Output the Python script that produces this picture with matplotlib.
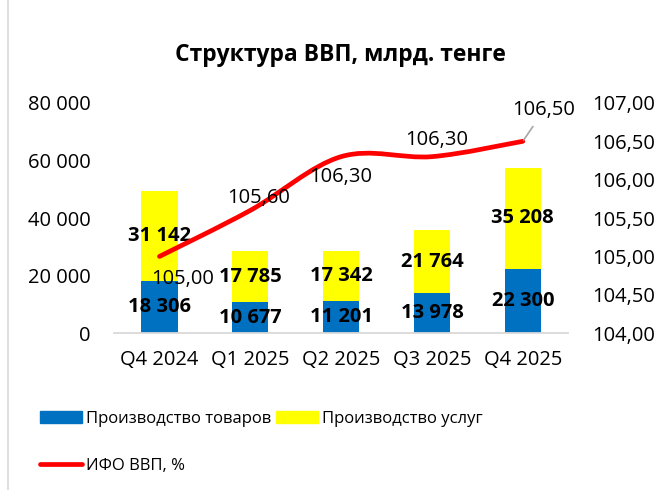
import matplotlib.pyplot as plt
import numpy as np
from matplotlib.path import Path
from matplotlib.patches import PathPatch, Patch
from matplotlib.lines import Line2D
from matplotlib.ticker import FuncFormatter

plt.rcParams["font.family"] = ["Open Sans", "DejaVu Sans"]

# Data
quarters = ["Q4 2024", "Q1 2025", "Q2 2025", "Q3 2025", "Q4 2025"]
goods = [18306, 10677, 11201, 13978, 22300]
services = [31142, 17785, 17342, 21764, 35208]
ifo = [105.00, 105.60, 106.30, 106.30, 106.50]

# label offsets (pixels) for the line values
ifo_offsets = [(23, -23), (8, 12), (0, -20), (5, 17), (21, 31)]

fig = plt.figure(figsize=(6.67, 4.9), dpi=100)
ax = fig.add_axes([0.171, 0.320, 0.681, 0.470])
ax2 = ax.twinx()

x = np.arange(len(quarters))
b1 = ax.bar(x, goods, width=0.4, color="#0070C0")
b2 = ax.bar(x, services, width=0.4, bottom=goods, color="#FFFF00")

fmt = lambda v: f"{int(v):,}".replace(",", " ")
ax.bar_label(b1, labels=[fmt(v) for v in goods], label_type="center",
             fontsize=14.5, fontweight="bold")
ax.bar_label(b2, labels=[fmt(v) for v in services], label_type="center",
             fontsize=14.5, fontweight="bold")

ax.set_xlim(-0.5, 4.5)
ax.set_ylim(0, 80000)
ax.set_yticks([0, 20000, 40000, 60000, 80000])
ax.yaxis.set_major_formatter(FuncFormatter(lambda v, p: fmt(v)))
ax.set_xticks(x)
ax.set_xticklabels(quarters)

ax2.set_ylim(104, 107)
ax2.set_yticks(np.arange(104, 107.01, 0.5))
ax2.yaxis.set_major_formatter(FuncFormatter(lambda v, p: f"{v:.2f}".replace(".", ",")))

for a in (ax, ax2):
    for s in ("top", "left", "right", "bottom"):
        a.spines[s].set_visible(False)
ax.spines["bottom"].set_visible(True)
ax.spines["bottom"].set_color("#D9D9D9")
ax.spines["bottom"].set_linewidth(1.3)

ax.tick_params(axis="y", length=0, pad=17, labelsize=14.5)
ax.tick_params(axis="x", length=0, pad=12, labelsize=14.5)
ax2.tick_params(axis="y", length=0, pad=17, labelsize=14.5)

# smoothed line (Catmull-Rom -> Bezier)
pts = np.column_stack([x, ifo]).astype(float)
ext = np.vstack([pts[0], pts, pts[-1]])
verts = [tuple(pts[0])]
codes = [Path.MOVETO]
for i in range(len(pts) - 1):
    p0, p1, p2, p3 = ext[i], ext[i + 1], ext[i + 2], ext[i + 3]
    c1 = p1 + (p2 - p0) / 6
    c2 = p2 - (p3 - p1) / 6
    verts += [tuple(c1), tuple(c2), tuple(p2)]
    codes += [Path.CURVE4] * 3
line = PathPatch(Path(verts, codes), facecolor="none", edgecolor="#FF0000",
                 linewidth=3.4, capstyle="round", zorder=5)
ax2.add_patch(line)

for i, (v, off) in enumerate(zip(ifo, ifo_offsets)):
    kw = {}
    if i == len(ifo) - 1:
        kw["arrowprops"] = dict(arrowstyle="-", color="#A6A6A6", lw=1.2,
                                shrinkA=3, shrinkB=1)
    ax2.annotate(f"{v:.2f}".replace(".", ","), (x[i], v), xytext=off,
                 textcoords="offset pixels", ha="center", va="center",
                 fontsize=14.5, zorder=6, **kw)

fig.text(0.51, 0.888, "Структура ВВП, млрд. тенге", ha="center", va="center",
         fontsize=16.5, fontweight="bold")

# chart area left border
fig.add_artist(Line2D([8 / 667, 8 / 667], [0, 1], color="#D9D9D9", lw=1.2))

handles = [Patch(color="#0070C0"), Line2D([], [], color="#FF0000", lw=3.4, solid_capstyle="round"),
           Patch(color="#FFFF00")]
labels = ["Производство товаров", "ИФО ВВП, %", "Производство услуг"]
fig.legend(handles, labels, ncol=2, loc="upper left", bbox_to_anchor=(40 / 667, 1 - 411 / 490),
           frameon=False, fontsize=12, handlelength=2.5, handleheight=0.75,
           handletextpad=0.25, columnspacing=0.3, labelspacing=1.85,
           borderpad=0, borderaxespad=0)

fig.savefig("out.png", dpi=100)
